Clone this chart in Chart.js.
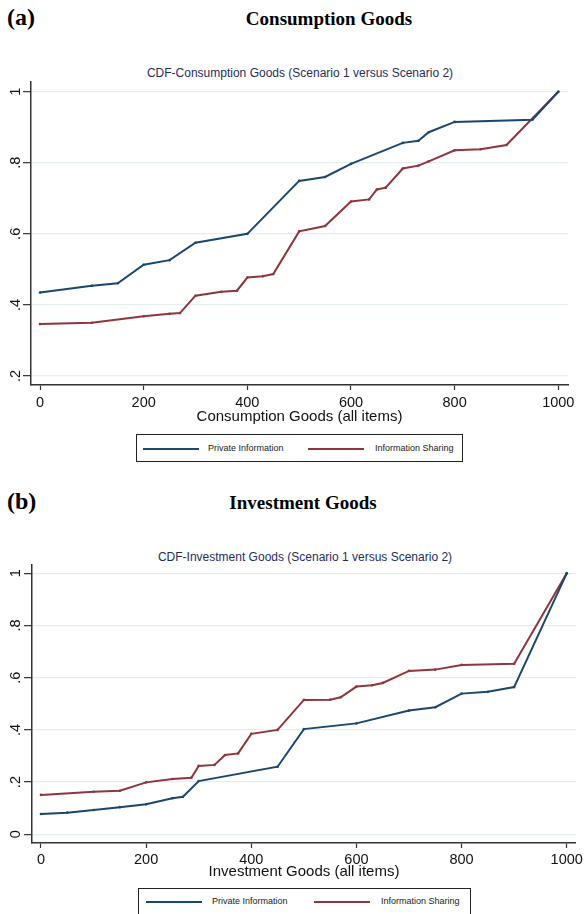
<!DOCTYPE html>
<html>
<head>
<meta charset="utf-8">
<script src="https://cdn.jsdelivr.net/npm/chart.js@4.4.1/dist/chart.umd.min.js"></script>
<style>
  html, body { margin: 0; padding: 0; background: #fff; }
  body { width: 586px; height: 914px; position: relative; overflow: hidden; }
  .abs { position: absolute; white-space: nowrap; }
  .panel { font: bold 24px "Liberation Serif", "Times New Roman", serif; line-height: 24px; }
  .title { font: bold 19px "Liberation Serif", "Times New Roman", serif; line-height: 19px; transform: translateX(-50%); }
  .sub { font: 12px "Liberation Sans", Arial, sans-serif; line-height: 12px; color: #1f2d5c; transform: translateX(-50%); }
  .box { position: absolute; border: 1.2px solid #222; box-sizing: border-box; }
  .leg { position: absolute; font: 9px "Liberation Sans", Arial, sans-serif; line-height: 9px; color: #222; }
  .swatch { position: absolute; height: 2px; }
  .chartwrap { position: absolute; left: 0; width: 586px; }
</style>
</head>
<body>

<div class="abs panel" style="left:7px; top:5px;">(a)</div>
<div class="abs title" style="left:329px; top:9px;">Consumption Goods</div>
<div class="abs sub" style="left:300px; top:67px;">CDF-Consumption Goods (Scenario 1 versus Scenario 2)</div>
<div class="chartwrap" style="top:78px; height:350px;"><canvas id="consChart"></canvas></div>
<div class="box" style="left:136px; top:434px; width:327px; height:28px;">
  <div class="swatch" style="left:6px; top:13px; width:56px; background:#1a476f;"></div>
  <div class="leg" style="left:71px; top:9px;">Private Information</div>
  <div class="swatch" style="left:171px; top:13px; width:56px; background:#90353b;"></div>
  <div class="leg" style="left:238px; top:9px;">Information Sharing</div>
</div>

<div class="abs panel" style="left:7px; top:489px;">(b)</div>
<div class="abs title" style="left:303px; top:493px;">Investment Goods</div>
<div class="abs sub" style="left:305px; top:551px;">CDF-Investment Goods (Scenario 1 versus Scenario 2)</div>
<div class="chartwrap" style="top:560px; height:323px;"><canvas id="invChart"></canvas></div>
<div class="box" style="left:138px; top:888px; width:333px; height:28px;">
  <div class="swatch" style="left:7px; top:12px; width:56px; background:#1a476f;"></div>
  <div class="leg" style="left:73px; top:8px;">Private Information</div>
  <div class="swatch" style="left:175px; top:12px; width:56px; background:#90353b;"></div>
  <div class="leg" style="left:242px; top:8px;">Information Sharing</div>
</div>

<script>
// --- Data ---
const xTicks = [0, 200, 400, 600, 800, 1000];
const consYTicks = [0.2, 0.4, 0.6, 0.8, 1];
const invYTicks = [0, 0.2, 0.4, 0.6, 0.8, 1];

// (a) Consumption goods
const consPrivateX = [0, 100, 150, 200, 250, 300, 400, 500, 550, 600, 700, 730, 750, 800, 950, 1000];
const consPrivateY = [0.435, 0.454, 0.461, 0.513, 0.526, 0.575, 0.600, 0.749, 0.760, 0.797, 0.856, 0.862, 0.886, 0.915, 0.921, 1.0];
const consSharingX = [0, 100, 200, 250, 270, 300, 350, 380, 400, 430, 450, 500, 550, 600, 635, 650, 667, 700, 730, 750, 800, 850, 900, 1000];
const consSharingY = [0.346, 0.350, 0.368, 0.375, 0.377, 0.426, 0.437, 0.440, 0.477, 0.481, 0.487, 0.607, 0.622, 0.691, 0.697, 0.725, 0.730, 0.784, 0.792, 0.804, 0.835, 0.838, 0.850, 1.0];

// (b) Investment goods
const invPrivateX = [0, 50, 100, 150, 200, 250, 270, 300, 450, 500, 600, 700, 750, 800, 850, 900, 1000];
const invPrivateY = [0.078, 0.083, 0.093, 0.104, 0.115, 0.138, 0.144, 0.204, 0.259, 0.403, 0.425, 0.474, 0.487, 0.539, 0.546, 0.564, 1.0];
const invSharingX = [0, 100, 150, 200, 250, 286, 300, 330, 350, 375, 400, 450, 500, 550, 570, 600, 630, 650, 700, 750, 800, 900, 1000];
const invSharingY = [0.151, 0.163, 0.167, 0.199, 0.212, 0.217, 0.262, 0.266, 0.304, 0.310, 0.385, 0.400, 0.515, 0.516, 0.525, 0.566, 0.571, 0.580, 0.626, 0.631, 0.649, 0.653, 1.0];

const seriesNames = ['Private Information', 'Information Sharing'];
const NAVY = '#1a476f';
const MAROON = '#90353b';
const FONT = '"Liberation Sans", Arial, sans-serif';

function pts(xs, ys) {
    return xs.map((x, i) => ({ x: x, y: ys[i] }));
}

function fmtY(v) {
    if (v === 0) return '0';
    if (v === 1) return '1';
    return String(v).replace(/^0/, '');
}

// Stata-style y labels, rotated to read bottom-to-top
const rotatedYTicks = {
    id: 'rotatedYTicks',
    afterDraw(chart, args, opts) {
        const ctx = chart.ctx;
        const ys = chart.scales.y;
        ctx.save();
        ctx.font = '14.5px ' + FONT;
        ctx.fillStyle = '#111';
        ctx.textAlign = 'center';
        ctx.textBaseline = 'middle';
        ys.ticks.forEach(t => {
            const py = ys.getPixelForValue(t.value);
            ctx.save();
            ctx.translate(opts.x, py);
            ctx.rotate(-Math.PI / 2);
            ctx.fillText(fmtY(t.value), 0, 0);
            ctx.restore();
        });
        ctx.restore();
    }
};

function makeChart(id, s) {
    const ctx = document.getElementById(id).getContext('2d');
    return new Chart(ctx, {
        type: 'scatter',
        data: {
            datasets: [
                {
                    label: seriesNames[0],
                    data: pts(s.privX, s.privY),
                    showLine: true,
                    borderColor: NAVY,
                    backgroundColor: NAVY,
                    borderWidth: 2,
                    pointRadius: 1.3,
                    pointBorderWidth: 0,
                    tension: 0
                },
                {
                    label: seriesNames[1],
                    data: pts(s.shareX, s.shareY),
                    showLine: true,
                    borderColor: MAROON,
                    backgroundColor: MAROON,
                    borderWidth: 2,
                    pointRadius: 1.3,
                    pointBorderWidth: 0,
                    tension: 0
                }
            ]
        },
        options: {
            responsive: true,
            maintainAspectRatio: false,
            animation: false,
            devicePixelRatio: 1,
            layout: { padding: s.padding },
            plugins: {
                legend: { display: false },
                tooltip: { enabled: false },
                rotatedYTicks: { x: 15.5 }
            },
            scales: {
                x: {
                    type: 'linear',
                    min: s.xMin,
                    max: s.xMax,
                    afterBuildTicks: sc => { sc.ticks = xTicks.map(v => ({ value: v })); },
                    afterFit: sc => { sc.height = s.xHeight; },
                    grid: { display: true, drawOnChartArea: false, drawTicks: true, tickLength: 5, tickColor: '#333', tickWidth: 1.2 },
                    border: { display: true, color: '#333', width: 1.5 },
                    ticks: {
                        color: '#111',
                        font: { family: FONT, size: 14.5 },
                        padding: s.xTickPad,
                        maxRotation: 0,
                        callback: v => String(v)
                    },
                    title: {
                        display: true,
                        text: s.xTitle,
                        color: '#111',
                        font: { family: FONT, size: 15 },
                        padding: { top: 0, bottom: s.xTitlePad }
                    }
                },
                y: {
                    type: 'linear',
                    min: s.yMin,
                    max: s.yMax,
                    afterBuildTicks: sc => { sc.ticks = s.yTicks.map(v => ({ value: v })); },
                    afterFit: sc => { sc.width = s.yWidth; },
                    grid: { color: '#e6eff0', lineWidth: 1.3, drawTicks: true, tickLength: 8, tickColor: '#333', tickWidth: 1.2 },
                    border: { display: true, color: '#333', width: 1.5 },
                    ticks: { display: false }
                }
            }
        },
        plugins: [rotatedYTicks]
    });
}

makeChart('consChart', {
    privX: consPrivateX, privY: consPrivateY,
    shareX: consSharingX, shareY: consSharingY,
    yTicks: consYTicks,
    xMin: -17.4, xMax: 1018.7,
    yMin: 0.1747, yMax: 1.0273,
    padding: { top: 4, right: 18, left: 0, bottom: 0 },
    yWidth: 31, xHeight: 43,
    xTickPad: 4, xTitlePad: 2,
    xTitle: 'Consumption Goods (all items)'
});

makeChart('invChart', {
    privX: invPrivateX, privY: invPrivateY,
    shareX: invSharingX, shareY: invSharingY,
    yTicks: invYTicks,
    xMin: -17.1, xMax: 1017.6,
    yMin: -0.0333, yMax: 1.0318,
    padding: { top: 5, right: 9, left: 0, bottom: 0 },
    yWidth: 32, xHeight: 40,
    xTickPad: 3, xTitlePad: 2,
    xTitle: 'Investment Goods (all items)'
});
</script>
</body>
</html>
